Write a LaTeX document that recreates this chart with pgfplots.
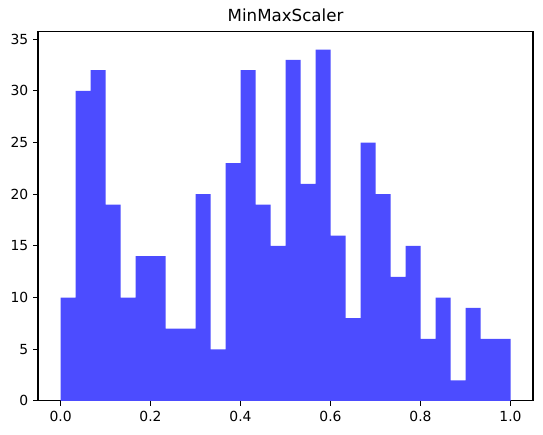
\documentclass[border=0pt]{standalone}
\usepackage{pgfplots}
\pgfplotsset{compat=1.18}
\usepackage{fontspec}
\setmainfont{DejaVu Sans}
\definecolor{barblue}{rgb}{0.3,0.3,1}
\begin{document}
\begin{tikzpicture}
\begin{axis}[
  scale only axis,
  width=356.4pt, height=265.7pt,
  xmin=-0.05, xmax=1.05, ymin=0, ymax=35.7,
  axis line style={line width=0.8pt},
  xtick={0,0.2,0.4,0.6,0.8,1.0},
  ytick={0,5,10,15,20,25,30,35},
  xticklabel style={/pgf/number format/.cd,fixed,fixed zerofill,precision=1},
  /pgf/number format/assume math mode=true,
  tick align=outside,
  tick pos=left,
  major tick length=3.5pt,
  tick style={line width=0.8pt,black},
  ticklabel style={font=\fontsize{10}{12}\selectfont},
  title={MinMaxScaler},
  title style={font=\fontsize{12}{14}\selectfont, yshift=-2pt},
]
\addplot[ybar interval, fill=barblue, draw=none] coordinates {
(0.000000,10) (0.033333,30) (0.066667,32) (0.100000,19) (0.133333,10)
(0.166667,14) (0.200000,14) (0.233333,7) (0.266667,7) (0.300000,20)
(0.333333,5) (0.366667,23) (0.400000,32) (0.433333,19) (0.466667,15)
(0.500000,33) (0.533333,21) (0.566667,34) (0.600000,16) (0.633333,8)
(0.666667,25) (0.700000,20) (0.733333,12) (0.766667,15) (0.800000,6)
(0.833333,10) (0.866667,2) (0.900000,9) (0.933333,6) (0.966667,6)
(1.000000,6)
};
\end{axis}
\path ([shift={(-27.4pt,-24.5pt)}]current axis.south west) rectangle ([shift={(7.2pt,23pt)}]current axis.north east);
\end{tikzpicture}
\end{document}
